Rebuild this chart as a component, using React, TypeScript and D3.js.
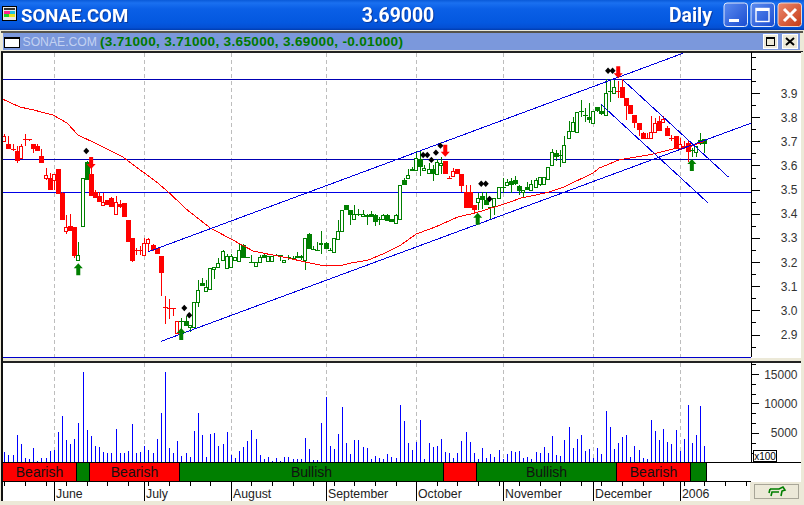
import * as d3 from "d3";

// ---- data ----
const opens = [3.70,3.69,3.67,3.66,3.63,3.71,3.71,3.69,3.68,3.64,3.55,3.55,3.54,3.585,3.485,3.33,3.35,3.345,3.21,3.35,3.615,3.565,3.49,3.475,3.435,3.455,3.465,3.40,3.44,3.445,3.375,3.30,3.25,3.25,3.23,3.28,3.27,3.26,3.225,3.015,3.01,3.01,2.905,2.955,2.955,2.93,2.93,3.035,3.115,3.08,3.09,3.17,3.18,3.21,3.175,3.18,3.21,3.205,3.27,3.22,3.20,3.185,3.20,3.23,3.205,3.205,3.23,3.23,3.20,3.22,3.215,3.225,3.225,3.21,3.315,3.255,3.25,3.275,3.28,3.25,3.243,3.295,3.33,3.435,3.415,3.38,3.40,3.39,3.395,3.40,3.395,3.377,3.38,3.395,3.377,3.36,3.38,3.54,3.55,3.585,3.58,3.625,3.58,3.567,3.585,3.564,3.60,3.62,3.55,3.555,3.585,3.565,3.49,3.49,3.435,3.45,3.475,3.455,3.43,3.433,3.464,3.512,3.52,3.535,3.54,3.515,3.49,3.512,3.50,3.51,3.523,3.522,3.544,3.602,3.65,3.645,3.613,3.712,3.744,3.74,3.825,3.81,3.80,3.775,3.84,3.827,3.81,3.91,3.90,3.91,3.923,3.88,3.85,3.81,3.775,3.733,3.715,3.712,3.74,3.784,3.78,3.754,3.712,3.722,3.67,3.68,3.692,3.662,3.654,3.705,3.71];
const highs = [3.73,3.72,3.69,3.68,3.69,3.73,3.71,3.69,3.69,3.67,3.59,3.57,3.565,3.585,3.49,3.395,3.40,3.345,3.285,3.55,3.62,3.635,3.50,3.49,3.487,3.455,3.47,3.475,3.455,3.445,3.375,3.30,3.26,3.265,3.30,3.30,3.275,3.26,3.225,3.06,3.045,3.01,2.955,2.97,2.975,2.94,3.035,3.125,3.135,3.125,3.175,3.18,3.215,3.25,3.235,3.235,3.22,3.275,3.275,3.22,3.23,3.20,3.23,3.235,3.225,3.225,3.235,3.23,3.21,3.23,3.225,3.24,3.23,3.30,3.32,3.265,3.285,3.33,3.285,3.26,3.30,3.375,3.415,3.435,3.415,3.435,3.42,3.415,3.40,3.41,3.40,3.385,3.40,3.40,3.38,3.40,3.52,3.55,3.587,3.593,3.66,3.66,3.60,3.61,3.60,3.625,3.637,3.62,3.555,3.59,3.585,3.565,3.52,3.52,3.435,3.485,3.49,3.49,3.43,3.465,3.512,3.547,3.545,3.55,3.555,3.52,3.50,3.53,3.54,3.55,3.553,3.553,3.592,3.67,3.665,3.666,3.72,3.782,3.80,3.823,3.873,3.836,3.857,3.825,3.84,3.854,3.96,3.96,3.953,3.95,3.957,3.88,3.85,3.81,3.775,3.74,3.733,3.805,3.795,3.805,3.805,3.763,3.726,3.722,3.712,3.70,3.70,3.672,3.682,3.733,3.71];
const lows = [3.70,3.67,3.66,3.61,3.63,3.68,3.70,3.65,3.66,3.61,3.54,3.50,3.50,3.48,3.375,3.315,3.33,3.215,3.205,3.35,3.54,3.475,3.465,3.45,3.435,3.435,3.427,3.395,3.425,3.385,3.285,3.20,3.23,3.23,3.23,3.243,3.245,3.235,3.06,2.945,2.965,2.975,2.905,2.92,2.935,2.91,2.93,3.015,3.10,3.08,3.09,3.13,3.18,3.21,3.175,3.18,3.21,3.205,3.215,3.215,3.195,3.185,3.20,3.215,3.205,3.205,3.225,3.205,3.20,3.21,3.21,3.215,3.21,3.167,3.255,3.25,3.245,3.235,3.255,3.245,3.243,3.29,3.33,3.415,3.355,3.38,3.39,3.385,3.355,3.385,3.35,3.355,3.38,3.37,3.367,3.36,3.38,3.52,3.547,3.575,3.58,3.555,3.58,3.567,3.537,3.564,3.565,3.565,3.547,3.555,3.565,3.49,3.425,3.425,3.40,3.415,3.42,3.437,3.377,3.395,3.464,3.485,3.52,3.485,3.52,3.478,3.47,3.50,3.50,3.51,3.515,3.522,3.544,3.60,3.62,3.595,3.613,3.712,3.744,3.74,3.80,3.778,3.775,3.775,3.82,3.81,3.81,3.864,3.90,3.88,3.878,3.788,3.815,3.754,3.72,3.708,3.708,3.708,3.74,3.744,3.78,3.722,3.70,3.667,3.67,3.67,3.615,3.637,3.637,3.685,3.65];
const closes = [3.72,3.67,3.67,3.62,3.68,3.71,3.71,3.67,3.66,3.61,3.56,3.50,3.565,3.48,3.375,3.345,3.33,3.225,3.23,3.55,3.54,3.475,3.465,3.45,3.45,3.435,3.427,3.45,3.43,3.385,3.285,3.205,3.25,3.25,3.28,3.295,3.25,3.235,3.155,3.015,3.01,3.01,2.955,2.955,2.935,2.94,3.035,3.085,3.10,3.095,3.175,3.18,3.195,3.245,3.225,3.225,3.22,3.25,3.215,3.215,3.20,3.20,3.22,3.215,3.225,3.225,3.225,3.22,3.21,3.22,3.215,3.215,3.215,3.30,3.255,3.25,3.25,3.28,3.255,3.25,3.30,3.33,3.415,3.415,3.395,3.40,3.40,3.40,3.385,3.385,3.367,3.377,3.395,3.37,3.367,3.393,3.52,3.52,3.56,3.575,3.63,3.595,3.59,3.585,3.565,3.613,3.61,3.565,3.547,3.575,3.565,3.515,3.425,3.425,3.415,3.465,3.455,3.437,3.43,3.465,3.512,3.512,3.533,3.517,3.525,3.495,3.50,3.50,3.522,3.54,3.553,3.553,3.592,3.654,3.636,3.645,3.685,3.744,3.78,3.823,3.82,3.805,3.79,3.825,3.827,3.815,3.90,3.905,3.923,3.91,3.878,3.845,3.815,3.777,3.747,3.708,3.708,3.74,3.775,3.744,3.793,3.722,3.712,3.667,3.69,3.68,3.657,3.662,3.682,3.69,3.69];
const volumes = [1750,1240,1240,4630,3100,730,560,2430,230,730,730,1920,2090,5140,7850,3790,3100,3950,6670,15300,5480,4460,2770,2600,1750,1580,1580,5650,1580,1580,1920,6500,1580,1750,2770,2090,1580,3950,8360,15300,2430,1580,3620,1070,1580,900,5310,8360,4630,900,4800,4970,2770,3100,5140,1240,730,1920,2600,3620,5480,3950,1240,560,900,200,730,230,900,900,560,560,560,4120,2260,400,400,6670,11070,2770,2260,4800,9380,3280,1410,3790,3790,2600,2430,560,1070,730,560,1410,900,730,9720,7000,3280,2090,3450,7180,560,3280,2600,2770,3950,1750,1580,730,1580,3620,5140,3450,1580,560,2430,730,1410,900,2090,560,1410,1920,1750,1920,730,900,560,1750,1580,2600,1580,4460,1240,1070,3790,5990,2430,3950,4630,1920,2260,730,2430,1410,8700,5990,2260,3280,4300,4630,900,2770,2090,730,560,7180,5310,3790,5650,3450,3100,5480,1920,3950,9720,3280,4630,9550,2770];

const runStates = ["bear","bull","bear","bull","bear","bull","bear","bull"];
const runLengths = [18,3,22,64,8,34,18,4];
const runLabels = ["Bearish","","Bearish","Bullish","","Bullish","Bearish",""];

const maIndex = [-0.5,3.8,7,11.8,15.2,17.9,22,28.8,33,34,37.3,39.8,44.4,50,55.5,60.4,64,68.9,73,77.9,81.5,84.2,88.3,92.4,96.3,100,104.6,110.2,114.3,120.6,125.5,129.1,132.3,135.9,143,144.4,149.3,153.4,157.5,162.4,166.3,170];
const maValue = [3.875,3.842,3.83,3.809,3.776,3.726,3.693,3.635,3.581,3.569,3.527,3.49,3.416,3.341,3.291,3.246,3.233,3.217,3.2,3.184,3.184,3.196,3.208,3.237,3.271,3.316,3.345,3.387,3.403,3.436,3.465,3.478,3.49,3.511,3.569,3.589,3.623,3.635,3.647,3.668,3.676,3.70];

const levels = [3.956,3.625,3.488];
const upperChannel: [number, number][] = [[35,3.243],[164.7,4.064]];
const lowerChannel: [number, number][] = [[38.1,2.872],[181.3,3.775]];
const downUpper: [number, number][] = [[150.2,3.954],[175.9,3.551]];
const downLower: [number, number][] = [[144.9,3.853],[170.8,3.446]];

const diamondIdx = [19.9,43.7,44.9,101.7,102.7,103.7,104.8,105.9,115.8,116.9,117.8,146.6,147.7];
const diamondVal = [3.66,3.01,2.98,3.643,3.643,3.623,3.653,3.682,3.524,3.524,3.461,3.992,3.992];
const upArrowIdx = [18,43,115,167];
const upArrowVal = [3.195,2.927,3.404,3.627];
const downArrowIdx = [21,107,149];
const downArrowVal = [3.585,3.636,3.961];

const priceLabels = [2.9,3.0,3.1,3.2,3.3,3.4,3.5,3.6,3.7,3.8,3.9];
const priceMinor = [2.85,2.95,3.05,3.15,3.25,3.35,3.45,3.55,3.65,3.75,3.85,3.95,4.0,4.05];
const volLabels = [5000,10000,15000];
const volMinor = [1667,3333,6667,8333,11667,13333,16667];
const monthNames = ["June","July","August","September","October","November","December","2006"];
const monthIdx = [12,34,55,78,100,121,143,164];
const weekIdx = [0,5,10,15,20,25,30,35,40,45,50,55,60,65,70,75,80,85,90,95,100,105,110,115,120,125,130,135,140,145,150,155,160,165,170,175,180];

// ---- scales ----
const xs = d3.scaleLinear().domain([0, 170]).range([4.35, 704.41]);
const col = (i: number) => Math.round(xs(i));
const y = d3.scaleLinear().domain([2.9, 3.9]).range([334.5, 93]);
const vy = d3.scaleLinear().domain([0, 15000]).range([462.4, 374]);

const RED = "#ff0000";
const GREEN = "#007f00";
const BLUE = "#0000e0";
const BEIGE = "#ece9d8";
const SANS = "'Liberation Sans', Arial, sans-serif";

const colours: string[] = [];
runStates.forEach((s, k) => {
  for (let n = 0; n < runLengths[k]; n++) colours.push(s === "bear" ? RED : GREEN);
});

const channelLine = d3.line<[number, number]>().x((d) => xs(d[0])).y((d) => y(d[1]));
const maLine = d3
  .line<number>()
  .x((_, i) => xs(maIndex[i]))
  .y((d) => y(d));

function Grid({ top, bottom }: { top: number; bottom: number }) {
  return (
    <g shapeRendering="crispEdges">
      {monthIdx.map((m) => (
        <line key={m} x1={col(m) + 0.5} x2={col(m) + 0.5} y1={top} y2={bottom} stroke="#bdbdbd" strokeDasharray="4 3" />
      ))}
    </g>
  );
}

function Candles() {
  return (
    <g shapeRendering="crispEdges">
      {opens.map((o, i) => {
        const c = closes[i];
        const px = col(i);
        const color = colours[i];
        const top = Math.round(y(Math.max(o, c)));
        const bot = Math.round(y(Math.min(o, c)));
        return (
          <g key={i}>
            <line x1={px + 0.5} x2={px + 0.5} y1={y(highs[i])} y2={y(lows[i])} stroke={color} />
            {c > o ? (
              <rect x={px - 1.5} y={top + 0.5} width={3} height={Math.max(bot - top, 1)} fill="#fff" stroke={color} />
            ) : (
              <rect x={px - 2} y={top} width={5} height={Math.max(bot - top, 1)} fill={color} />
            )}
          </g>
        );
      })}
    </g>
  );
}

function upArrow(cx: number, tip: number) {
  return `M${cx},${tip}L${cx + 4.5},${tip + 5}L${cx + 2},${tip + 5}L${cx + 2},${tip + 12}L${cx - 2},${tip + 12}L${cx - 2},${tip + 5}L${cx - 4.5},${tip + 5}Z`;
}
function downArrow(cx: number, tip: number) {
  return `M${cx},${tip}L${cx + 4.5},${tip - 5}L${cx + 2},${tip - 5}L${cx + 2},${tip - 12}L${cx - 2},${tip - 12}L${cx - 2},${tip - 5}L${cx - 4.5},${tip - 5}Z`;
}

function Markers() {
  return (
    <g>
      {diamondIdx.map((d, i) => {
        const cx = xs(d);
        const cy = y(diamondVal[i]);
        return <path key={i} d={`M${cx},${cy - 3.2}L${cx + 3},${cy}L${cx},${cy + 3.2}L${cx - 3},${cy}Z`} fill="#000" />;
      })}
      {upArrowIdx.map((d, i) => (
        <path key={i} d={upArrow(xs(d) - 0.2, y(upArrowVal[i]))} fill={GREEN} />
      ))}
      {downArrowIdx.map((d, i) => (
        <path key={i} d={downArrow(xs(d) + 0.3, y(downArrowVal[i]))} fill={RED} />
      ))}
    </g>
  );
}

function Ribbon() {
  let start = 0;
  return (
    <g>
      {runStates.map((s, k) => {
        const x0 = k === 0 ? 2.5 : Math.round(xs(start - 0.5)) + 0.5;
        const x1 = Math.round(xs(start + runLengths[k] - 0.5)) + 0.5;
        start += runLengths[k];
        return (
          <g key={k}>
            <rect x={x0} y={462.5} width={x1 - x0} height={19} fill={s === "bear" ? RED : "#007f00"} stroke="#000" shapeRendering="crispEdges" />
            {runLabels[k] && (
              <text x={(x0 + x1) / 2} y={477} textAnchor="middle" fontFamily={SANS} fontSize={14} fill="#111">
                {runLabels[k]}
              </text>
            )}
          </g>
        );
      })}
    </g>
  );
}

function TitleBar() {
  return (
    <g>
      <rect x={0} y={0} width={804} height={30} fill="url(#xpTitle)" />
      <g shapeRendering="crispEdges">
        <rect x={2.5} y={6.5} width={14} height={14} fill="#e8e8e8" stroke="#000" />
        <rect x={4} y={8} width={11} height={2} fill="#333" />
        <rect x={4} y={11} width={6} height={3} fill="#ff2090" />
        <rect x={10} y={11} width={5} height={3} fill="#20c0e0" />
        <rect x={4} y={14} width={5} height={3} fill="#20d020" />
        <rect x={9} y={14} width={6} height={3} fill="#e8e020" />
      </g>
      <g fontFamily="Roboto, sans-serif" fontWeight={700} fill="#fff" style={{ filter: "drop-shadow(1px 1px 0 #0a3aa0)" }}>
        <text x={21} y={22} fontSize={18.6}>SONAE.COM</text>
        <text x={398} y={22} fontSize={19.4} textAnchor="middle">3.69000</text>
        <text x={669} y={22} fontSize={19.4}>Daily</text>
      </g>
      <rect x={724} y={3} width={23.5} height={23.5} rx={3} fill="url(#xpBtn)" stroke="#dfe8fb" />
      <rect x={729} y={19} width={10} height={3} fill="#fff" />
      <rect x={751} y={3} width={23.5} height={23.5} rx={3} fill="url(#xpBtn)" stroke="#dfe8fb" />
      <rect x={756} y={8.5} width={13} height={13} fill="none" stroke="#fff" strokeWidth={1.4} />
      <rect x={756} y={8} width={13} height={3} fill="#fff" />
      <rect x={778} y={3} width={23.5} height={23.5} rx={3} fill="url(#xpClose)" stroke="#f0d8d0" />
      <path d="M784,9L796,21M796,9L784,21" stroke="#fff" strokeWidth={3} />

      <rect x={0} y={30} width={804} height={22} fill={BEIGE} />
      <rect x={1} y={31} width={802} height={2} fill="#55534a" />
      <rect x={3} y={33} width={797} height={17} fill="#7b98dc" />
      <rect x={4.5} y={37.5} width={15} height={10} fill="#fff" stroke="#000" shapeRendering="crispEdges" />
      <rect x={4.5} y={37} width={15} height={2} fill="#000" />
      <text x={22.5} y={46} fontFamily={SANS} fontSize={12.2} fill="#c3d2f2">SONAE.COM</text>
      <text x={100} y={46} fontFamily={SANS} fontSize={13.6} fontWeight={700} fill="#007800" letterSpacing={0.3}>(3.71000, 3.71000, 3.65000, 3.69000, -0.01000)</text>
      <g shapeRendering="crispEdges">
        <rect x={763.5} y={34.5} width={14} height={14} fill={BEIGE} stroke="#fff" />
        <rect x={766.5} y={37.5} width={8} height={8} fill="none" stroke="#000" />
        <rect x={766} y={37} width={9} height={2} fill="#000" />
        <rect x={782.5} y={34.5} width={15} height={14} fill={BEIGE} stroke="#fff" />
      </g>
      <path d="M786,38L794,45M794,38L786,45" stroke="#000" strokeWidth={2} />
    </g>
  );
}

function PriceAxis() {
  return (
    <g>
      <g shapeRendering="crispEdges" stroke="#000">
        {priceLabels.map((v) => (
          <line key={v} x1={751} x2={760} y1={Math.round(y(v)) + 0.5} y2={Math.round(y(v)) + 0.5} />
        ))}
        {priceMinor.map((v) => (
          <line key={v} x1={751} x2={756} y1={Math.round(y(v)) + 0.5} y2={Math.round(y(v)) + 0.5} />
        ))}
      </g>
      {priceLabels.map((v) => (
        <text key={v} x={797.5} y={y(v) + 4.5} textAnchor="end" fontFamily={SANS} fontSize={12} fill="#333">
          {d3.format(".1f")(v)}
        </text>
      ))}
    </g>
  );
}

function VolumeAxis() {
  return (
    <g>
      <g shapeRendering="crispEdges" stroke="#000">
        {volLabels.map((v) => (
          <line key={v} x1={751} x2={759} y1={Math.round(vy(v)) + 0.5} y2={Math.round(vy(v)) + 0.5} />
        ))}
        {volMinor.map((v) => (
          <line key={v} x1={751} x2={756} y1={Math.round(vy(v)) + 0.5} y2={Math.round(vy(v)) + 0.5} />
        ))}
      </g>
      {volLabels.map((v) => (
        <text key={v} x={797.5} y={vy(v) + 4.5} textAnchor="end" fontFamily={SANS} fontSize={12} fill="#333">
          {v}
        </text>
      ))}
      <rect x={753.5} y={450.5} width={23} height={11} fill="#fff" stroke="#000" shapeRendering="crispEdges" />
      <text x={765} y={459.5} textAnchor="middle" fontFamily={SANS} fontSize={10} fill="#000">x100</text>
    </g>
  );
}

function DateAxis() {
  return (
    <g>
      <g shapeRendering="crispEdges" stroke="#000">
        {weekIdx.map((w) => (
          <line key={w} x1={col(w) + 0.5} x2={col(w) + 0.5} y1={482} y2={486} />
        ))}
        {monthIdx.map((m) => (
          <line key={m} x1={col(m) + 0.5} x2={col(m) + 0.5} y1={482} y2={501} />
        ))}
      </g>
      {monthNames.map((n, k) => (
        <text key={n} x={col(monthIdx[k]) + 2} y={498} fontFamily={SANS} fontSize={12.3} fill="#222">
          {n}
        </text>
      ))}
    </g>
  );
}

export default function App() {
  return (
    <svg width={804} height={505} viewBox="0 0 804 505" style={{ position: "absolute", left: 0, top: 0, display: "block" }}>
      <defs>
        <linearGradient id="xpTitle" x1="0" y1="0" x2="0" y2="1">
          <stop offset="0" stopColor="#0a5ad8" />
          <stop offset="0.1" stopColor="#1a70f0" />
          <stop offset="0.3" stopColor="#0a5fe6" />
          <stop offset="0.75" stopColor="#0458e0" />
          <stop offset="0.92" stopColor="#0450d4" />
          <stop offset="1" stopColor="#003cb0" />
        </linearGradient>
        <linearGradient id="xpBtn" x1="0" y1="0" x2="1" y2="1">
          <stop offset="0" stopColor="#5c8cf0" />
          <stop offset="1" stopColor="#1a4cd0" />
        </linearGradient>
        <linearGradient id="xpClose" x1="0" y1="0" x2="1" y2="1">
          <stop offset="0" stopColor="#ec8a70" />
          <stop offset="1" stopColor="#c63a14" />
        </linearGradient>
      </defs>

      <rect x={0} y={0} width={804} height={505} fill={BEIGE} />
      <TitleBar />

      {/* panels */}
      <rect x={2} y={52} width={799} height={306} fill="#fff" />
      <rect x={2} y={362} width={799} height={120} fill="#fff" />
      <rect x={2} y={482} width={749} height={19} fill="#fff" />

      <Grid top={53} bottom={357} />
      <Grid top={363} bottom={462} />

      <g shapeRendering="crispEdges">
        {levels.map((l, i) => (
          <line key={l} x1={2} x2={751} y1={Math.round(y(l)) + 0.5} y2={Math.round(y(l)) + 0.5} stroke={i === 2 ? "#0000e6" : "#0000b4"} />
        ))}
      </g>

      <Candles />
      <g fill="none" shapeRendering="crispEdges">
        <path d={maLine(maValue) ?? ""} stroke={RED} strokeWidth={1} />
        <path d={channelLine(upperChannel) ?? ""} stroke={BLUE} strokeWidth={1} />
        <path d={channelLine(lowerChannel) ?? ""} stroke={BLUE} strokeWidth={1} />
        <path d={channelLine(downUpper) ?? ""} stroke={BLUE} strokeWidth={1} />
        <path d={channelLine(downLower) ?? ""} stroke={BLUE} strokeWidth={1} />
      </g>
      <Markers />

      {/* volume */}
      <g shapeRendering="crispEdges">
        {volumes.map((v, i) => (
          <line key={i} x1={col(i) + 0.5} x2={col(i) + 0.5} y1={Math.round(vy(v))} y2={462} stroke="#0000ff" />
        ))}
      </g>

      <Ribbon />

      {/* frame lines */}
      <g shapeRendering="crispEdges">
        <rect x={1} y={51} width={802} height={1.5} fill="#222" />
        <rect x={2} y={357} width={749} height={1} fill="#0000cc" />
        <rect x={2} y={358} width={802} height={3} fill={BEIGE} />
        <rect x={1} y={361} width={802} height={1.5} fill="#222" />
        <rect x={1} y={52} width={1.5} height={449} fill="#111" />
        <rect x={751} y={52} width={1.2} height={305} fill="#000" />
        <rect x={751} y={362} width={1.2} height={100} fill="#000" />
        <rect x={2} y={462} width={802} height={1} fill="#000" />
        <rect x={2} y={481} width={749} height={1} fill="#000" />
        <rect x={750} y={482} width={54} height={23} fill={BEIGE} />
        <rect x={1} y={501} width={750} height={4} fill={BEIGE} />
        <rect x={801} y={52} width={3} height={430} fill={BEIGE} />
        <rect x={754.5} y={484.5} width={44} height={14} fill={BEIGE} stroke="#a8a698" />
      </g>
      <path d="M770,489L779,489L783,487L785,490L782,491L781,496M779,492L772,492L771,496M770,489L769,493" fill="none" stroke={GREEN} strokeWidth={1.6} />

      <PriceAxis />
      <VolumeAxis />
      <DateAxis />
    </svg>
  );
}
